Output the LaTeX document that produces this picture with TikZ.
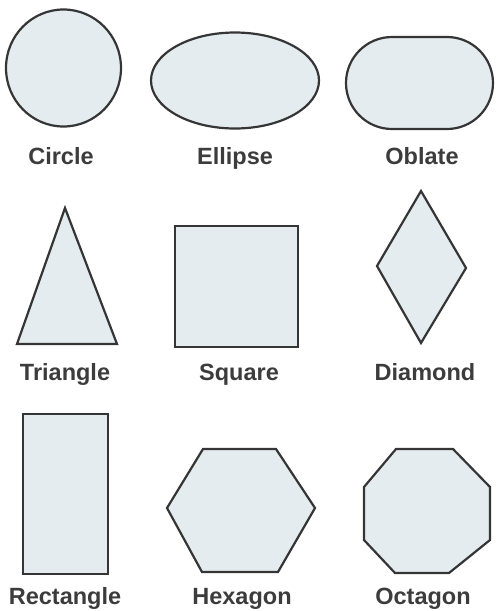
\documentclass[tikz,border=0pt]{standalone}
\usepackage{fontspec}
\setmainfont{Liberation Sans}
\usetikzlibrary{shapes.geometric}
\definecolor{shapefill}{HTML}{E4ECEF}
\definecolor{shapeline}{HTML}{353535}
\definecolor{labelcol}{HTML}{3C3C3C}
\begin{document}
\begin{tikzpicture}[x=1pt,y=-1pt,
  shp/.style={draw=shapeline,fill=shapefill,line width=2.2pt,line join=miter},
  lbl/.style={text=labelcol,font=\fontsize{23.5}{25}\selectfont\bfseries,inner sep=0pt,anchor=base}]
\useasboundingbox (0,0) rectangle (496,611);
% Row 1
\draw[shp] (63.5,68) ellipse [x radius=57.5, y radius=58.5];
\draw[shp] (235,80.5) ellipse [x radius=84, y radius=48];
\draw[shp,rounded corners=46pt] (346,37) rectangle (493,129);
\node[lbl] (lcircle) at (61,164) {Circle};
\node[lbl] (lellipse) at (235,164) {Ellipse};
\node[lbl] (loblate) at (422,164) {Oblate};
% Row 2
\draw[shp] (65,208) -- (117,344) -- (17,344) -- cycle;
\draw[shp] (175,226) rectangle (298,347);
\draw[shp] (421,191) -- (466,268) -- (421,343) -- (377,266) -- cycle;
\node[lbl] (ltriangle) at (65,380) {Triangle};
\node[lbl] (lsquare) at (239,380) {Square};
\node[lbl] (ldiamond) at (425,380) {Diamond};
% Row 3
\draw[shp] (23,414) rectangle (108,574);
\draw[shp] (203,449) -- (276,449) -- (315,508) -- (278,572) -- (202,572) -- (167,508) -- cycle;
\draw[shp] (396,449) -- (453,449) -- (490,487) -- (490,540) -- (449,573) -- (395,573) -- (364,540) -- (364,487) -- cycle;
\node[lbl] (lrectangle) at (65,604) {Rectangle};
\node[lbl] (lhexagon) at (242,604) {Hexagon};
\node[lbl] (loctagon) at (423,604) {Octagon};
\end{tikzpicture}
\end{document}
